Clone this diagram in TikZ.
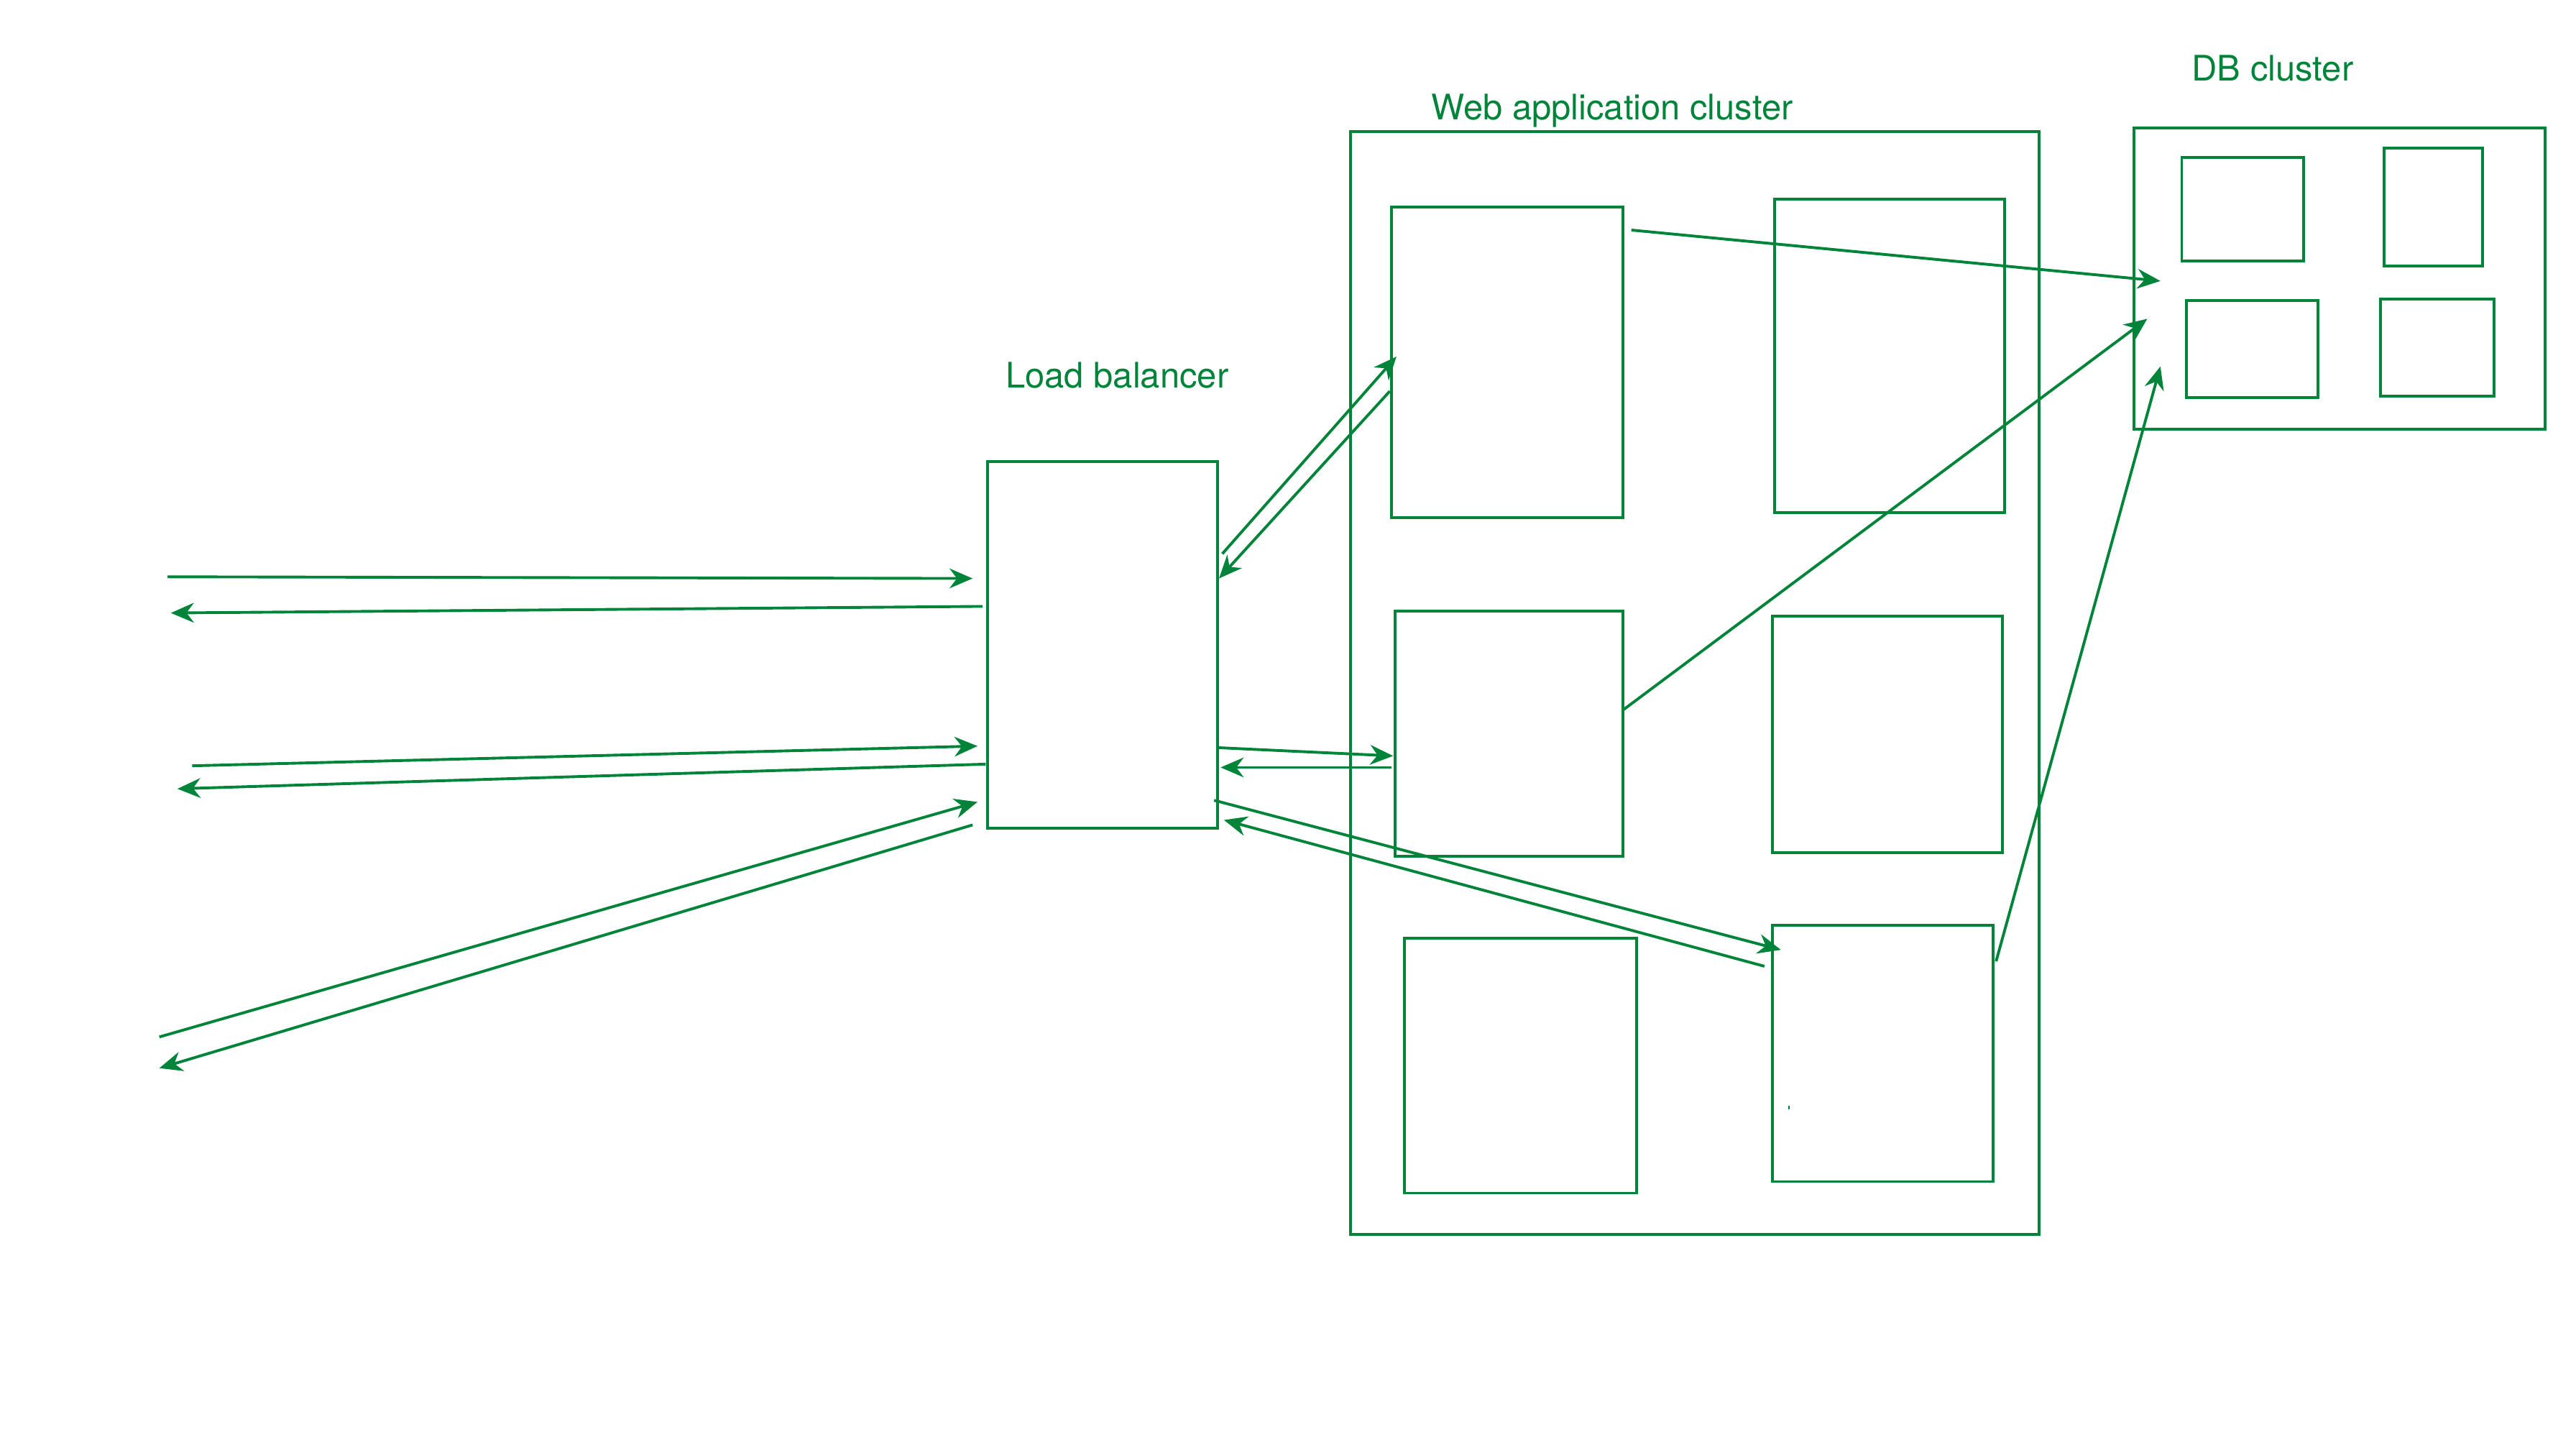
\documentclass[tikz,border=0pt]{standalone}
\usepackage{fontspec}
\setmainfont{TeX Gyre Heros}
\usetikzlibrary{arrows.meta,fit}
\definecolor{grn}{RGB}{0,132,58}
\tikzset{
  box/.style={draw=grn, line width=1.7pt, inner sep=0pt, rectangle},
  lbl/.style={text=grn, font=\fontsize{21.4}{24}\selectfont, anchor=base west, inner sep=0pt},
  conn/.style={draw=grn, line width=1.7pt, -{Stealth[length=14pt,width=12pt,inset=4.5pt]}},
}
\newcommand{\bx}[5]{\path (#2,#3) coordinate (#1a) (#4,#5) coordinate (#1b);
  \node[box, fit=(#1a)(#1b)] (#1) {};}
\begin{document}
\begin{tikzpicture}[x=1pt,y=-1pt]
\useasboundingbox (0,0) rectangle (1568,873);
% boxes
\bx{lb}{601}{281}{741}{504}
\bx{web}{822}{80}{1241}{751}
\bx{wa}{847}{126}{988}{315}
\bx{wb}{1080}{121}{1220}{312}
\bx{wc}{849}{372}{988}{521}
\bx{wd}{1079}{375}{1219}{519}
\bx{we}{855}{571}{996}{726}
\bx{wf}{1079}{563}{1213}{719}
\fill[grn] (1088.5,673) rectangle (1089.5,675);
\bx{db}{1299}{78}{1549}{261}
\bx{da}{1328}{96}{1402}{159}
\bx{dbb}{1451}{90}{1511}{162}
\bx{dc}{1331}{183}{1411}{242}
\bx{dd}{1449}{182}{1518}{241}
% labels
\node[lbl] (tlb) at (612,236) {Load balancer};
\node[lbl] (tweb) at (871,73) {Web application cluster};
\node[lbl] (tdb) at (1334,49) {DB cluster};
% endpoints
\coordinate (c1a) at (102,351);  \coordinate (c1b) at (592,352);
\coordinate (c2a) at (598,369);  \coordinate (c2b) at (104,373);
\coordinate (c3a) at (117,466);  \coordinate (c3b) at (595,454);
\coordinate (c4a) at (600,465);  \coordinate (c4b) at (108,480);
\coordinate (c5a) at (97,631);   \coordinate (c5b) at (595,488);
\coordinate (c6a) at (592,502);  \coordinate (c6b) at (97,650);
\coordinate (c7a) at (744,337);  \coordinate (c7b) at (850,217);
\coordinate (c8a) at (846,238);  \coordinate (c8b) at (742,352);
\coordinate (c9a) at (742,455);  \coordinate (c9b) at (848,460);
\coordinate (c10a) at (847,467); \coordinate (c10b) at (743,467);
\coordinate (c11a) at (739,487); \coordinate (c11b) at (1084,578);
\coordinate (c12a) at (1074,588);\coordinate (c12b) at (745,499);
\coordinate (c13a) at (993,140); \coordinate (c13b) at (1315,171);
\coordinate (c14a) at (988,432); \coordinate (c14b) at (1307,194);
\coordinate (c15a) at (1215,585);\coordinate (c15b) at (1315,223);
\foreach \i in {1,...,15} \draw[conn] (c\i a) -- (c\i b);
\end{tikzpicture}
\end{document}
